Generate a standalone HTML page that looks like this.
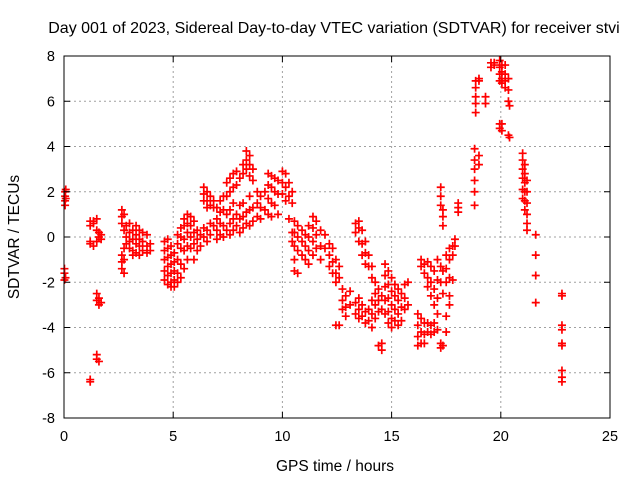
<!DOCTYPE html>
<html><head><meta charset="utf-8"><style>
html,body{margin:0;padding:0;background:#fff}
svg{display:block;font-family:"Liberation Sans",sans-serif}
</style></head><body>
<svg id="chart" width="640" height="480" viewBox="0 0 640 480">
<g id="grid"></g>
<g id="marks"></g>
<rect x="64" y="56" width="546" height="362" fill="none" stroke="#000" stroke-width="1"/>
<g id="ticks"></g>
<text x="334" y="33" text-anchor="middle" font-size="16">Day 001 of 2023, Sidereal Day-to-day VTEC variation (SDTVAR) for receiver stvi</text>
<text x="335" y="471" text-anchor="middle" font-size="15.5">GPS time / hours</text>
<text transform="translate(19,237) rotate(-90)" text-anchor="middle" font-size="15.5">SDTVAR / TECUs</text>
</svg>
<script>
const xTicks=[0,5,10,15,20,25];
const yTicks=[-8,-6,-4,-2,0,2,4,6,8];
const times=[0.05,0.08,0.02,0.07,1.2,1.35,1.5,1.6,1.7,2.65,2.75,2.85,3.0,3.15,3.3,3.45,3.6,3.8,3.95,4.6,4.75,4.9,5.05,5.2,5.35,5.5,5.65,5.8,5.95,6.1,6.25,6.4,6.55,6.7,6.85,7.0,7.15,7.3,7.45,7.6,7.75,7.9,8.05,8.2,8.35,8.5,8.65,8.85,9.0,9.2,9.35,9.5,9.65,9.8,10.0,10.15,10.3,10.45,10.55,10.7,10.9,11.05,11.2,11.4,11.55,11.75,11.95,12.15,12.3,12.45,12.6,12.75,12.9,13.1,13.35,13.5,13.65,13.8,13.95,14.1,14.25,14.4,14.55,14.7,14.85,15.0,15.15,15.3,15.45,15.6,15.75,16.2,16.35,16.5,16.65,16.8,16.95,17.1,17.25,17.35,17.5,17.65,17.8,17.9,18.05,18.8,18.85,19.0,19.3,19.55,19.7,19.95,20.05,20.2,20.35,20.4,21.0,21.1,21.2,21.6,22.8];
const values=[[2.0,1.8,1.6,1.4],[2.1,1.7],[-1.4,-1.6,-1.9],[-1.8],[0.7,0.5,-0.2,-0.3,-6.3,-6.4],[0.7,0.6,-0.4],[0.8,0.3,-0.2,-2.5,-2.8,-5.2,-5.4],[0.2,0.0,-2.7,-3.0,-5.5],[0.1,-0.1,-2.9],
[1.2,0.9,0.6,-0.8,-1.1,-1.4],[1.0,0.3,-0.5,-1.0,-1.6],[0.5,0.0,-0.3],[0.6,0.2,-0.2,-0.5],[0.3,-0.1,-0.6,-0.8],[0.5,0.1,-0.3,-0.7],[0.3,-0.1,-0.4,-0.8],[0.2,-0.2,-0.6],[0.1,-0.4,-0.7],[-0.3,-0.6],
[-0.2,-0.6,-1.0,-1.5,-1.9],[-0.1,-0.5,-0.9,-1.3,-1.7,-2.1],[-0.4,-0.8,-1.2,-1.6,-2.0,-2.2],[-0.7,-1.1,-1.5,-1.9,-2.2],[0.1,-0.3,-1.0,-1.6,-2.0],[0.4,0.0,-0.5,-1.2,-1.8],[0.8,0.5,-0.1,-0.6,-1.4],[1.0,0.6,0.2,-0.4,-1.0],[0.9,0.5,0.0,-0.5],[0.7,0.2,-0.3,-1.0],[0.3,-0.1,-0.6],[0.1,-0.4],
[2.2,1.9,1.6,0.4,0.0],[2.0,1.6,1.3,0.3,-0.2],[1.8,1.4,0.6,0.1],[1.6,1.3,0.5],[1.3,0.8,0.3,-0.1],[1.6,1.1,0.6,0.1],[1.8,1.2,0.5,0.0],[2.4,1.8,1.0,0.3],[2.6,2.0,1.2,0.6,0.1],[2.8,2.2,1.5,0.8,0.3],[2.9,2.3,1.0,0.5],[2.6,1.4,0.8,0.2],[3.2,2.8,1.5,0.9,0.4],[3.8,3.4,3.0,1.1,0.6],[3.6,3.2,2.7,1.8,1.2,0.5],[3.0,2.5,1.3,0.7],[2.0,1.5,0.9],[1.8,1.3,0.8],[2.0,1.2],[2.8,2.3,1.7,1.0],[2.7,2.2,1.5,0.9],[2.6,2.0,1.4],[2.5,1.9,1.0],[2.9,2.4,1.9],[2.8,2.2,1.6],[2.4,1.8,0.8],[2.0,1.5,0.2,-0.2],[0.7,0.2,-0.4,-1.0,-1.5],[0.5,0.0,-0.6,-1.6],[0.3,-0.2,-0.8],[0.1,-0.4,-1.0],[0.5,0.0,-0.6,-1.2],[0.9,0.4,-0.2,-0.8],[0.7,0.1,-0.5],[0.3,-0.4,-1.0],[0.1,-0.5],[-0.3,-0.8,-1.3],[-0.5,-1.1,-1.6],[-1.0,-1.6,-2.0,-3.9],[-1.3,-1.8,-3.9],[-2.3,-2.8,-3.2],[-2.6,-3.1,-3.5],[-2.4,-3.0],
[0.6,0.2,-2.9,-3.4],[0.7,0.4,-0.2,-2.7,-3.2,-3.6],[0.3,-0.3,-0.8,-3.0,-3.5],[-0.2,-0.7,-1.2,-3.3,-3.8],[-0.8,-1.3,-3.2,-3.7],[-1.3,-1.8,-2.8,-3.4,-4.0],[-2.0,-2.5,-3.0,-3.6],[-2.3,-2.8,-3.3,-4.8],[-2.6,-3.2,-4.7,-5.0],[-1.2,-1.7,-2.2,-2.8,-3.4],[-1.5,-2.1,-2.7,-3.3,-3.8],[-1.8,-2.4,-3.0,-3.6,-4.0],[-2.1,-2.6,-3.2,-3.7],[-2.3,-2.8,-3.4,-3.9],[-2.5,-3.1,-3.7],[-2.1,-2.7,-3.2],[-2.0,-3.0],
[-3.4,-3.9,-4.4,-4.8],[-1.0,-1.3,-3.6,-4.2,-4.7],[-1.2,-1.6,-3.8,-4.3,-4.7],[-1.1,-1.8,-2.2,-3.8,-4.2],[-1.3,-2.0,-2.6,-3.9,-4.3],[-1.5,-2.3,-3.0,-3.8,-4.2],[-1.0,-1.9,-2.7,-3.4,-4.1],[2.2,1.8,1.4,-1.3,-2.0,-4.7,-4.9],[1.2,0.9,0.5,-1.5,-2.5,-4.8],[-0.8,-1.4,-2.0,-3.5,-4.2],[-0.5,-1.0,-1.8,-2.6,-3.0],[-0.4,-0.8,-1.9],[-0.1,-0.4],[1.5,1.3,1.1],
[3.9,3.4,3.0,2.5,2.0,1.4],[6.9,6.6,6.2,5.9,5.5],[3.6,3.2,7.0,6.9],[6.2,5.9],[7.7,7.5],[7.7,7.6],[7.8,7.5,7.2,6.9,5.0,4.8],[7.6,7.3,7.0,6.8,5.0,4.7],[7.6,7.2,6.9,6.6],[7.0,6.5,6.0,4.5],[5.8,4.4],[3.7,3.4,3.0,2.6,2.1,1.7],[3.2,2.8,2.4,2.0,1.6,1.2],[2.5,2.0,1.5,1.0,0.6,0.3],[0.1,-0.8,-1.7,-2.9],[-2.5,-2.6,-3.9,-4.1,-4.7,-4.8,-5.9,-6.2,-6.4]];
const NS='http://www.w3.org/2000/svg';
const X0=64,X1=610,Y0=418,Y1=56;
function xs(t){return X0+(t-0)/(25-0)*(X1-X0);}
function ys(v){return Y0-(v+8)/16*(Y0-Y1);}
function mk(tag,a,p){const e=document.createElementNS(NS,tag);for(const k in a)e.setAttribute(k,a[k]);p.appendChild(e);return e;}
const grid=document.getElementById('grid'),ticks=document.getElementById('ticks'),marks=document.getElementById('marks');
xTicks.forEach(t=>{const x=xs(t);
 if(t>0&&t<25){const g=mk('line',{x1:x,x2:x,y1:Y1,y2:Y0,stroke:'#a0a0a0','stroke-dasharray':'2,3'},grid);
 
 }
 mk('line',{x1:x,x2:x,y1:Y0,y2:Y0-6,stroke:'#000'},ticks);mk('line',{x1:x,x2:x,y1:Y1,y2:Y1+6,stroke:'#000'},ticks);
 const l=mk('text',{x:x,y:Y0+23,'text-anchor':'middle','font-size':'14.5'},ticks);l.textContent=t;
 
 });
yTicks.forEach(v=>{const y=ys(v);
 if(v>-8&&v<8){const g=mk('line',{x1:X0,x2:X1,y1:y,y2:y,stroke:'#a0a0a0','stroke-dasharray':'2,3'},grid);
 
 }
 mk('line',{x1:X0,x2:X0+6,y1:y,y2:y,stroke:'#000'},ticks);mk('line',{x1:X1,x2:X1-6,y1:y,y2:y,stroke:'#000'},ticks);
 const l=mk('text',{x:X0-9,y:y+5,'text-anchor':'end','font-size':'14.5'},ticks);l.textContent=v;
 
 });
times.forEach((t,i)=>{values[i].forEach(v=>{const x=xs(t),y=ys(v);
 const p=mk('path',{d:`M${x-4} ${y}h8M${x} ${y-4}v8`,stroke:'#f00','stroke-width':'1.7',fill:'none'},marks);
 
 });});
</script>
</body></html>
